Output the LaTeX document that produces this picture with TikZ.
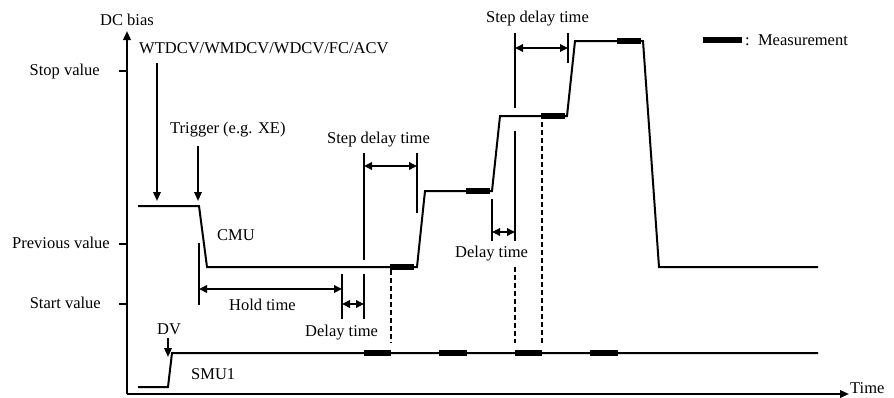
\documentclass[tikz,border=0pt]{standalone}
\usepackage{fontspec}
\setmainfont{Liberation Serif}
\usetikzlibrary{arrows.meta}
\begin{document}
\begin{tikzpicture}[x=1pt,y=-1pt,
  wave/.style={line width=2pt, line join=miter},
  axisline/.style={line width=2pt, -{Triangle[length=9pt,width=7.5pt]}},
  tickline/.style={line width=2pt},
  darr/.style={line width=1.8pt, {Triangle[length=8pt,width=7.5pt]}-{Triangle[length=8pt,width=7.5pt]}},
  sarr/.style={line width=1.8pt, -{Triangle[length=9pt,width=7.5pt]}},
  dashline/.style={line width=2pt, dash pattern=on 5pt off 3pt},
  meas/.style={line width=6.5pt},
  lbl/.style={inner sep=0pt, font=\fontsize{16.5}{18}\selectfont}]
\useasboundingbox (0,0) rectangle (894,397);
% axes
\coordinate (O) at (127,394);
\coordinate (Ytop) at (127,31);
\coordinate (Xend) at (849,394);
\draw[axisline] (O) -- (Ytop);
\draw[axisline] (O) -- (Xend);
\node[lbl, anchor=base] (dcbias) at (127,25) {DC bias};
\node[lbl, anchor=base west] (time) at (850,393) {Time};
% ticks
\coordinate (t1a) at (119,71); \coordinate (t1b) at (127,71);
\coordinate (t2a) at (119,244); \coordinate (t2b) at (127,244);
\coordinate (t3a) at (119,304); \coordinate (t3b) at (127,304);
\draw[tickline] (t1a) -- (t1b);
\draw[tickline] (t2a) -- (t2b);
\draw[tickline] (t3a) -- (t3b);
\node[lbl, anchor=base east] (stopv) at (100,75) {Stop value};
\node[lbl, anchor=base east] (prevv) at (110,248) {Previous value};
\node[lbl, anchor=base east] (startv) at (101,308) {Start value};
% CMU waveform
\coordinate (c0) at (138,206);
\coordinate (c1) at (199,206);
\coordinate (c2) at (207,267);
\coordinate (c3) at (417,267);
\coordinate (c4) at (425,191);
\coordinate (c5) at (492,191);
\coordinate (c6) at (500,116);
\coordinate (c7) at (567,116);
\coordinate (c8) at (575,41);
\coordinate (c9) at (643,41);
\coordinate (c10) at (659,267);
\coordinate (c11) at (818,267);
\draw[wave] (c0) -- (c1) -- (c2) -- (c3) -- (c4) -- (c5) -- (c6) -- (c7) -- (c8) -- (c9) -- (c10) -- (c11);
% SMU waveform
\coordinate (s0) at (138,387);
\coordinate (s1) at (168,387);
\coordinate (s2) at (172,353);
\coordinate (s3) at (818,353);
\draw[wave] (s0) -- (s1) -- (s2) -- (s3);
% measurement blocks CMU
\coordinate (m1a) at (390,267); \coordinate (m1b) at (414,267);
\coordinate (m2a) at (466,191); \coordinate (m2b) at (490,191);
\coordinate (m3a) at (541,116); \coordinate (m3b) at (565,116);
\coordinate (m4a) at (617,41); \coordinate (m4b) at (641,41);
\draw[meas] (m1a) -- (m1b);
\draw[meas] (m2a) -- (m2b);
\draw[meas] (m3a) -- (m3b);
\draw[meas] (m4a) -- (m4b);
% measurement blocks SMU
\coordinate (n1a) at (364,353); \coordinate (n1b) at (391,353);
\coordinate (n2a) at (439,353); \coordinate (n2b) at (467,353);
\coordinate (n3a) at (515,353); \coordinate (n3b) at (542,353);
\coordinate (n4a) at (590,353); \coordinate (n4b) at (618,353);
\draw[meas] (n1a) -- (n1b);
\draw[meas] (n2a) -- (n2b);
\draw[meas] (n3a) -- (n3b);
\draw[meas] (n4a) -- (n4b);
% legend
\coordinate (la) at (703,40); \coordinate (lb) at (742,40);
\draw[meas] (la) -- (lb);
\node[lbl, anchor=base west] (legend) at (745,45) {:\ \ Measurement};
% command arrows
\node[lbl, anchor=base west] (cmd) at (139,53) {WTDCV/WMDCV/WDCV/FC/ACV};
\coordinate (w0) at (157,63); \coordinate (w1) at (157,201);
\draw[sarr] (w0) -- (w1);
\node[lbl, anchor=base west] (trig) at (170,133) {Trigger (e.g. XE)};
\coordinate (g0) at (198,146); \coordinate (g1) at (198,201);
\draw[sarr] (g0) -- (g1);
\node[lbl, anchor=base west] (cmu) at (217,240) {CMU};
% DV
\node[lbl, anchor=base west] (dv) at (157,334) {DV};
\coordinate (d0) at (168,338); \coordinate (d1) at (168,357);
\draw[sarr] (d0) -- (d1);
\node[lbl, anchor=base west] (smu) at (191,379) {SMU1};
% hold time
\coordinate (h0) at (199,243); \coordinate (h1) at (199,305);
\draw[tickline] (h0) -- (h1);
\coordinate (ha) at (199,289); \coordinate (hb) at (342,289);
\draw[darr] (ha) -- (hb);
\node[lbl, anchor=base west] (hold) at (229,310) {Hold time};
% delay time 1
\coordinate (e0) at (342,274); \coordinate (e1) at (342,319);
\coordinate (f0) at (364,274); \coordinate (f1) at (364,319);
\draw[tickline] (e0) -- (e1);
\draw[tickline] (f0) -- (f1);
\coordinate (ea) at (342,304); \coordinate (eb) at (364,304);
\draw[darr] (ea) -- (eb);
\node[lbl, anchor=base west] (delay1) at (305,336) {Delay time};
% step delay 1
\coordinate (p0) at (364,153); \coordinate (p1) at (364,260);
\coordinate (q0) at (417,153); \coordinate (q1) at (417,213);
\draw[tickline] (p0) -- (p1);
\draw[tickline] (q0) -- (q1);
\coordinate (pa) at (364,166); \coordinate (pb) at (417,166);
\draw[darr] (pa) -- (pb);
\node[lbl, anchor=base west] (step1) at (327,143) {Step delay time};
\coordinate (k0) at (391,270); \coordinate (k1) at (391,343);
\draw[dashline] (k0) -- (k1);
% step delay 2
\coordinate (r0) at (515,33); \coordinate (r1) at (515,108);
\coordinate (u0) at (568,33); \coordinate (u1) at (568,63);
\draw[tickline] (r0) -- (r1);
\draw[tickline] (u0) -- (u1);
\coordinate (ra) at (515,48); \coordinate (rb) at (568,48);
\draw[darr] (ra) -- (rb);
\node[lbl, anchor=base west] (step2) at (486,22) {Step delay time};
% delay time 2
\coordinate (v0) at (515,131); \coordinate (v1) at (515,241);
\coordinate (z0) at (492,199); \coordinate (z1) at (492,241);
\draw[tickline] (v0) -- (v1);
\draw[tickline] (z0) -- (z1);
\coordinate (za) at (492,232); \coordinate (zb) at (515,232);
\draw[darr] (za) -- (zb);
\node[lbl, anchor=base west] (delay2) at (455,257) {Delay time};
\coordinate (y0) at (515,267); \coordinate (y1) at (515,343);
\draw[dashline] (y0) -- (y1);
\coordinate (x0) at (542,122); \coordinate (x1) at (542,343);
\draw[dashline] (x0) -- (x1);
\end{tikzpicture}
\end{document}
